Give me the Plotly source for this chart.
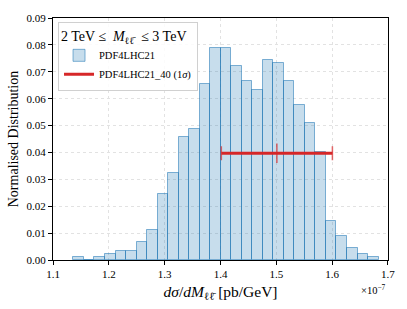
import plotly.graph_objects as go

# Histogram (x in units of 1e-7 pb/GeV)
bin_start = 1.1365
bin_width = 0.01885
heights = [0.0011, 0.0, 0.0011, 0.0022, 0.0033, 0.0033, 0.0067, 0.0111, 0.0244, 0.0322,
           0.0456, 0.0489, 0.0656, 0.0789, 0.0789, 0.0722, 0.0667, 0.0633, 0.0744, 0.0733,
           0.0667, 0.0578, 0.0511, 0.0400, 0.0144, 0.0089, 0.0044, 0.0022, 0.0011]
centers = [bin_start + bin_width * (i + 0.5) for i in range(len(heights))]

# 1-sigma band
err_center = 1.501
err_half = 0.0995
err_y = 0.0397

x_ticks = [1.1, 1.2, 1.3, 1.4, 1.5, 1.6, 1.7]
y_ticks = [0.00, 0.01, 0.02, 0.03, 0.04, 0.05, 0.06, 0.07, 0.08, 0.09]

FONT = "Liberation Serif"
RED = "#d62728"
RED_T = "rgba(214,39,40,0.7)"

fig = go.Figure()
fig.add_trace(go.Bar(
    x=centers, y=heights, width=bin_width,
    marker=dict(color="rgba(31,119,180,0.25)",
                line=dict(color="rgba(31,119,180,0.55)", width=1)),
    name="PDF4LHC21",
))
fig.add_trace(go.Scatter(
    x=[err_center - err_half, err_center + err_half], y=[err_y, err_y],
    mode="lines", line=dict(color=RED, width=3),
    name="PDF4LHC21_40 (1<i>σ</i>)",
))
fig.add_trace(go.Scatter(
    x=[err_center], y=[err_y], mode="markers",
    marker=dict(symbol="line-ns-open", size=14, color=RED_T, line=dict(color=RED_T, width=1.5)),
    error_x=dict(type="constant", value=err_half, color=RED_T, thickness=1.5, width=7),
    showlegend=False,
))

fig.update_layout(
    width=407, height=309,
    margin=dict(l=53, r=14, t=12, b=44),
    paper_bgcolor="white", plot_bgcolor="white",
    font=dict(family=FONT, size=11, color="black"),
    bargap=0,
    showlegend=True,
    legend=dict(
        x=0.015, y=0.985, xanchor="left", yanchor="top",
        bgcolor="rgba(255,255,255,0.85)", bordercolor="#d0d0d0", borderwidth=1,
        font=dict(family=FONT, size=10.5),
        title=dict(text="2 TeV ≤  <i>M</i><sub>ℓℓ̄</sub>  ≤ 3 TeV", font=dict(family=FONT, size=14)),
        tracegroupgap=0, itemwidth=30,
    ),
    xaxis=dict(
        range=[1.0999, 1.7001], tickvals=x_ticks, ticktext=[f"{v:.1f}" for v in x_ticks],
        showline=True, linecolor="black", linewidth=1, mirror=True,
        ticks="outside", ticklen=4, tickcolor="black",
        showgrid=True, gridcolor="#e2e2e2", griddash="dot", gridwidth=1,
        zeroline=False,
        title=dict(text="<i>dσ</i>/<i>dM</i><sub>ℓℓ̄</sub> [pb/GeV]", font=dict(size=15.5), standoff=6),
        tickfont=dict(size=11),
    ),
    yaxis=dict(
        range=[0, 0.09], tickvals=y_ticks, ticktext=[f"{v:.2f}" for v in y_ticks],
        showline=True, linecolor="black", linewidth=1, mirror=True,
        ticks="outside", ticklen=4, tickcolor="black",
        showgrid=True, gridcolor="#e2e2e2", griddash="dot", gridwidth=1,
        zeroline=False,
        title=dict(text="Normalised Distribution", font=dict(size=14), standoff=4),
        tickfont=dict(size=11),
    ),
)
fig.add_annotation(
    text="×10<sup>−7</sup>", xref="paper", yref="paper", x=1.0, y=-0.085,
    xanchor="right", yanchor="top", showarrow=False, font=dict(family=FONT, size=10.5),
)

fig.write_html("out.html", config={"displayModeBar": False},
               post_script="document.body.style.margin='0';document.body.style.overflow='hidden';")
